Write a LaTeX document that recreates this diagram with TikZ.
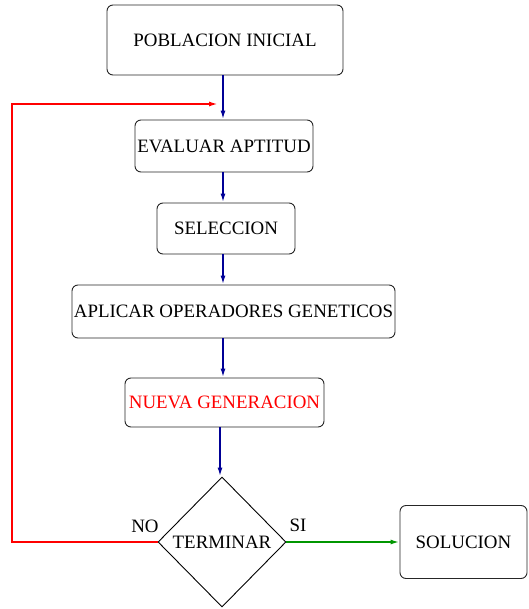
\documentclass[tikz,border=0pt]{standalone}
\usepackage{fontspec}
\setmainfont{Liberation Serif}
\usetikzlibrary{shapes.geometric,arrows.meta}
\definecolor{azul}{RGB}{0,0,150}
\definecolor{verde}{RGB}{0,150,0}
\tikzset{
	caja/.style={draw=black!85, line width=0.9pt, rounded corners=6pt, inner sep=0pt},
	rombo/.style={draw=black, line width=0.9pt, diamond, inner sep=0pt},
	flecha/.style={line width=1.7pt, -{Latex[length=9pt,width=5pt]}},
	every node/.style={font=\fontsize{18.9}{22}\selectfont}
}

\begin{document}
\begin{tikzpicture}[x=1pt, y=-1pt]
		%%%%% START %%%%%
		\useasboundingbox (0, 0) rectangle (528, 609);
		
		\node[caja, minimum width=236, minimum height=70] (pob) at (225, 40) {POBLACION INICIAL};
		\node[caja, minimum width=178, minimum height=52] (eval) at (224, 146) {EVALUAR APTITUD};
		\node[caja, minimum width=138, minimum height=51] (sel) at (226, 228.5) {SELECCION};
		\node[caja, minimum width=323, minimum height=53] (apl) at (233.5, 311.5) {APLICAR OPERADORES GENETICOS};
		\node[caja, minimum width=199, minimum height=49, text=red] (nueva) at (224.5, 402.5) {NUEVA GENERACION};
		\node[rombo, minimum width=128, minimum height=130] (term) at (222, 542) {TERMINAR};
		\node[caja, minimum width=127, minimum height=73] (sol) at (463.5, 542) {SOLUCION};
		
		\coordinate (lazo) at (218, 104);
		
		\draw[flecha, color=azul] (pob.south -| 223, 0) -- (eval.north -| 223, 0);
		\draw[flecha, color=azul] (eval.south -| 223, 0) -- (sel.north -| 223, 0);
		\draw[flecha, color=azul] (sel.south -| 223, 0) -- (apl.north -| 223, 0);
		\draw[flecha, color=azul] (apl.south -| 223, 0) -- (nueva.north -| 223, 0);
		\draw[flecha, color=azul] (nueva.south -| 220, 0) -- (term.north -| 220, 0);
		
		\draw[flecha, color=red] (term.west) -- (term.west -| 12, 0) |- (lazo);
		\draw[flecha, color=verde] (term.east) -- (sol.west);
		
		\node (no) at (145, 526) {NO};
		\node (si) at (298, 525) {SI};
		
		%%%%% END %%%%%
\end{tikzpicture}
\end{document}
